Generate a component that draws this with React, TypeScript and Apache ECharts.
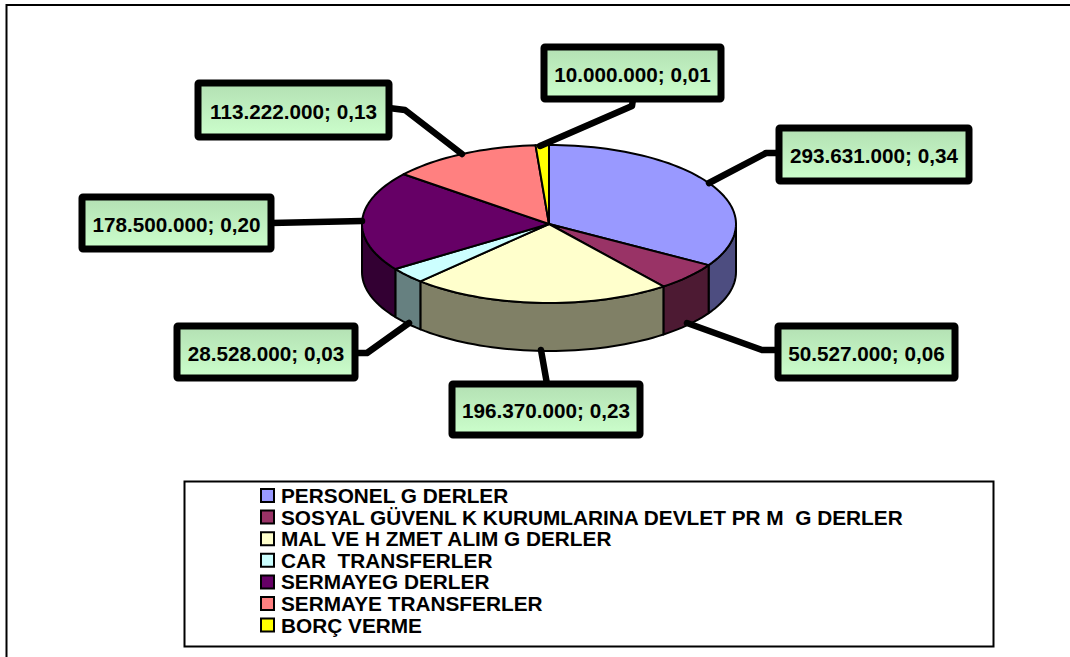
import React, { useEffect, useRef } from "react";
import * as echarts from "echarts";

const categories = [
  "PERSONEL G DERLER",
  "SOSYAL GÜVENL K KURUMLARINA DEVLET PR M  G DERLER",
  "MAL VE H ZMET ALIM G DERLER",
  "CAR  TRANSFERLER",
  "SERMAYEG DERLER",
  "SERMAYE TRANSFERLER",
  "BORÇ VERME",
];
const values = [293631000, 50527000, 196370000, 28528000, 178500000, 113222000, 10000000];
const topColors = ["#9999ff", "#993366", "#ffffcc", "#ccffff", "#660066", "#ff8080", "#ffff00"];
const wallColors = ["#4d4d80", "#4d1a33", "#808066", "#668080", "#330033", "#804040", "#808000"];

// label box [x, y, w, h] and leader polyline, per slice
const labelBoxes = [
  [779, 128, 190, 53],
  [778, 326, 177, 52],
  [452, 384, 188, 51],
  [177, 326, 178, 52],
  [82, 197, 189, 52],
  [198, 83, 191, 54],
  [544, 47, 177, 52],
];
const leaders = [
  [[709, 183], [766, 153], [779, 153]],
  [[687, 323], [762, 350], [778, 350]],
  [[541, 350], [547, 384]],
  [[409, 323], [367, 353], [355, 353]],
  [[362, 221], [271, 223]],
  [[462, 154], [405, 110], [389, 108]],
  [[540, 146], [632, 106], [633, 99]],
];

const CX = 549;
const CY = 224;
const RX = 187;
const RY = 79;
const DEPTH = 48;
const total = values.reduce((a, b) => a + b, 0);

const pt = (deg: number, dy = 0) => {
  const r = (deg * Math.PI) / 180;
  return [CX + RX * Math.sin(r), CY - RY * Math.cos(r) + dy];
};
const arc = (a: number, b: number, dy = 0) => {
  const out: number[][] = [];
  const n = Math.max(2, Math.ceil(Math.abs(b - a) / 2));
  for (let i = 0; i <= n; i++) out.push(pt(a + ((b - a) * i) / n, dy));
  return out;
};
const fmt = (v: number) => String(v).replace(/\B(?=(\d{3})+(?!\d))/g, ".");
const share = (v: number) => (v / total).toFixed(2).replace(".", ",");

const startOf = (i: number) =>
  (values.slice(0, i).reduce((a, b) => a + b, 0) / total) * 360;

const FONT = '"Liberation Sans", Arial, sans-serif';

export default function App() {
  const ref = useRef<HTMLDivElement>(null);
  useEffect(() => {
    const chart = echarts.init(ref.current!, null, { renderer: "svg" });
    const edge = { stroke: "#000", lineWidth: 2, lineJoin: "round" as const };

    const sliceSeries = categories.map((name, i) => ({
      type: "custom",
      name,
      coordinateSystem: "none",
      itemStyle: { color: topColors[i] },
      z: 3,
      data: [[values[i]]],
      renderItem: (_p: any, api: any) => {
        const a0 = startOf(i);
        const a1 = a0 + (api.value(0) / total) * 360;
        const children: any[] = [];
        const w0 = Math.max(a0, 90);
        const w1 = Math.min(a1, 270);
        if (w1 > w0) {
          children.push({
            type: "polygon",
            shape: { points: [...arc(w0, w1), ...arc(w1, w0, DEPTH)] },
            style: { fill: wallColors[i], ...edge },
          });
        }
        children.push({
          type: "polygon",
          shape: { points: [[CX, CY], ...arc(a0, a1)] },
          style: { fill: topColors[i], ...edge },
        });
        return { type: "group", children };
      },
    }));

    const labelSeries = {
      type: "custom",
      name: "labels",
      coordinateSystem: "none",
      z: 5,
      data: values.map((v) => [v]),
      renderItem: (p: any, api: any) => {
        const i = p.dataIndex;
        const [x, y, w, h] = labelBoxes[i];
        const v = api.value(0);
        return {
          type: "group",
          children: [
            {
              type: "polyline",
              shape: { points: leaders[i] },
              style: { stroke: "#000", lineWidth: 6.5, fill: "none", lineCap: "round", lineJoin: "round" },
            },
            {
              type: "rect",
              shape: { x, y, width: w, height: h, r: 1 },
              style: {
                fill: new echarts.graphic.LinearGradient(0, 0, 0, 1, [
                  { offset: 0, color: "#b3e0b3" },
                  { offset: 1, color: "#ccffcc" },
                ]),
                stroke: "#000",
                lineWidth: 7,
                lineJoin: "round",
              },
            },
            {
              type: "text",
              style: {
                text: `${fmt(v)}; ${share(v)}`,
                x: x + w / 2,
                y: y + h / 2 + 1,
                align: "center",
                verticalAlign: "middle",
                fill: "#000",
                font: `bold 20.7px ${FONT}`,
              },
            },
          ],
        };
      },
    };

    chart.setOption({
      animation: false,
      backgroundColor: "#fff",
      legend: {
        orient: "vertical",
        left: 260,
        top: 485,
        padding: 0,
        itemWidth: 13,
        itemHeight: 13,
        itemGap: 0.6,
        selectedMode: false,
        data: categories,
        icon: "rect",
        itemStyle: { borderColor: "#000", borderWidth: 2 },
        textStyle: {
          color: "#000",
          fontFamily: FONT,
          fontWeight: "bold",
          fontSize: 20.8,
          lineHeight: 19,
          padding: [0, 0, 0, 2],
        },
      },
      graphic: [
        {
          type: "polyline",
          z: 0,
          shape: { points: [[6.5, 657], [6.5, 5], [1070, 5]] },
          style: { stroke: "#000", lineWidth: 2, fill: "none" },
        },
        {
          type: "rect",
          z: 0,
          shape: { x: 184.5, y: 481.5, width: 809, height: 165 },
          style: { stroke: "#000", lineWidth: 2, fill: "#fff" },
        },
      ],
      series: [...sliceSeries, labelSeries],
    });
    return () => chart.dispose();
  }, []);
  return (
    <div
      ref={ref}
      style={{ position: "absolute", left: 0, top: 0, width: 1070, height: 657 }}
    />
  );
}
